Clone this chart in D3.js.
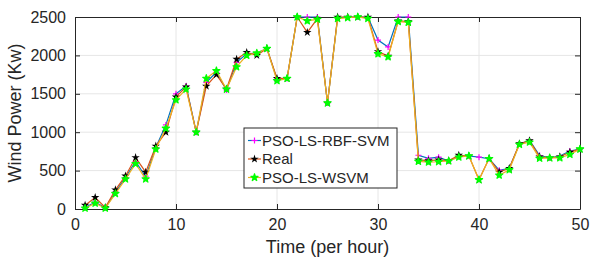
<!DOCTYPE html>
<meta charset='utf-8'>
<style>
  body { margin:0; background:#fff; }
  text { font-family:'Liberation Sans', Arial, sans-serif; fill:#262626; }
  .grid line { stroke:#e6e6e6; stroke-width:1px; }
</style>
<body>
  <script src='https://d3js.org/d3.v7.min.js' charset='utf-8'></script>
  <script>

    var width = 590;
    var height = 260;

    // hours 1..50
    var hours = d3.range(1, 51);

    var rbfSvm = [20,90,15,220,410,620,420,800,1095,1500,1600,1000,1650,1780,1550,1910,2020,2030,2090,1690,
                  1700,2500,2500,2500,1380,2490,2500,2500,2500,2200,2110,2500,2500,700,660,675,625,690,690,675,
                  655,505,530,845,895,695,665,690,755,780];
    var real = [50,150,20,250,430,670,480,820,1000,1460,1590,1000,1600,1750,1560,1950,2040,2000,2090,1700,
                1700,2500,2300,2480,1380,2500,2500,2500,2500,2050,1990,2450,2440,640,630,640,630,700,690,380,
                660,480,530,850,890,680,665,680,740,780];
    var wsvm = [10,75,10,200,390,590,390,780,1050,1420,1560,1000,1700,1800,1560,1850,2000,2030,2090,1670,
                1700,2500,2450,2470,1380,2480,2490,2500,2480,2020,1980,2440,2430,620,610,615,625,675,690,380,
                655,440,510,840,870,660,665,665,710,780];

    var xTicks = [0, 10, 20, 30, 40, 50];
    var yTicks = [0, 500, 1000, 1500, 2000, 2500];

    var series = [
      {name:'PSO-LS-RBF-SVM', values:rbfSvm, line:'#0072BD', marker:'plus', mcolor:'#ff00ff'},
      {name:'Real', values:real, line:'#D95319', marker:'star', mcolor:'#000'},
      {name:'PSO-LS-WSVM', values:wsvm, line:'#EDB120', marker:'gstar', mcolor:'#00ff00'}
    ];

    var m = {left:75, right:10, top:17, bottom:51};
    var w = width - m.left - m.right;
    var h = height - m.top - m.bottom;

    var svg = d3.select('body').append('svg')
      .attr('width', width)
      .attr('height', height);

    var x = d3.scaleLinear().domain([0, 50]).range([0, w]);
    var y = d3.scaleLinear().domain([0, 2500]).range([h, 0]);

    var g = svg.append('g').attr('transform', 'translate(' + m.left + ',' + m.top + ')');

    // grid
    var grid = g.append('g').attr('class', 'grid');
    grid.selectAll('.gx').data(xTicks.slice(1, -1)).enter().append('line')
      .attr('x1', d => x(d)).attr('x2', d => x(d)).attr('y1', 0).attr('y2', h);
    grid.selectAll('.gy').data(yTicks.slice(1, -1)).enter().append('line')
      .attr('y1', d => y(d)).attr('y2', d => y(d)).attr('x1', 0).attr('x2', w);

    // axes (ticks inside, box style)
    function styleAxis(sel) {
      sel.selectAll('path').attr('stroke', '#262626');
      sel.selectAll('line').attr('stroke', '#262626');
      sel.selectAll('text').style('font-size', '16px').attr('fill', '#262626');
    }
    g.append('g').attr('transform', 'translate(0,' + h + ')')
      .call(d3.axisBottom(x).tickValues(xTicks).tickSizeInner(-5).tickSizeOuter(0).tickPadding(10))
      .call(styleAxis);
    g.append('g')
      .call(d3.axisTop(x).tickValues(xTicks).tickSizeInner(-5).tickSizeOuter(0).tickFormat(''))
      .call(styleAxis);
    g.append('g')
      .call(d3.axisLeft(y).tickValues(yTicks).tickFormat(d3.format('d')).tickSizeInner(-5).tickSizeOuter(0).tickPadding(9))
      .call(styleAxis);
    g.append('g').attr('transform', 'translate(' + w + ',0)')
      .call(d3.axisRight(y).tickValues(yTicks).tickSizeInner(-5).tickSizeOuter(0).tickFormat(''))
      .call(styleAxis);
    g.selectAll('.domain').attr('stroke-width', 1);

    // markers
    var starPath = d3.symbol().type(d3.symbolStar).size(22)();
    var gstarPath = d3.symbol().type(d3.symbolStar).size(16)();
    function drawMarker(sel, type, color) {
      if (type === 'plus') {
        sel.append('path').attr('d', 'M-3,0H3M0,-3V3')
          .attr('stroke', color).attr('stroke-width', 1.2).attr('fill', 'none');
      } else if (type === 'star') {
        sel.append('path').attr('d', starPath).attr('fill', color);
      } else {
        sel.append('path').attr('d', gstarPath).attr('fill', color)
          .attr('stroke', color).attr('stroke-width', 1.2).attr('stroke-linejoin', 'round');
      }
    }

    var line = d3.line().x((d, i) => x(hours[i])).y(d => y(d));

    series.forEach(s => {
      var sg = g.append('g');
      sg.append('path').datum(s.values)
        .attr('d', line)
        .attr('fill', 'none')
        .attr('stroke', s.line)
        .attr('stroke-width', 1.2);
      sg.selectAll('.mk').data(s.values).enter().append('g')
        .attr('transform', (d, i) => 'translate(' + x(hours[i]) + ',' + y(d) + ')')
        .each(function() { drawMarker(d3.select(this), s.marker, s.mcolor); });
    });

    // axis labels
    svg.append('text')
      .attr('x', m.left + w / 2).attr('y', 253)
      .attr('text-anchor', 'middle')
      .style('font-size', '18px')
      .text('Time (per hour)');
    svg.append('text')
      .attr('transform', 'translate(21,' + (m.top + h / 2) + ') rotate(-90)')
      .attr('text-anchor', 'middle')
      .style('font-size', '18px')
      .text('Wind Power (Kw)');

    // legend
    var lg = svg.append('g').attr('transform', 'translate(244,128)');
    lg.append('rect').attr('width', 153).attr('height', 60)
      .attr('fill', '#fff').attr('stroke', '#262626').attr('stroke-width', 1);
    series.forEach((s, i) => {
      var row = lg.append('g').attr('transform', 'translate(0,' + (12.5 + i * 18.5) + ')');
      row.append('line').attr('x1', 4).attr('x2', 17)
        .attr('stroke', s.line).attr('stroke-width', 1.2);
      var mk = row.append('g').attr('transform', 'translate(10.5,0)');
      drawMarker(mk, s.marker, s.mcolor);
      row.append('text').attr('x', 18).attr('dy', '0.35em')
        .style('font-size', '15px')
        .text(s.name);
    });
  </script>
</body>
